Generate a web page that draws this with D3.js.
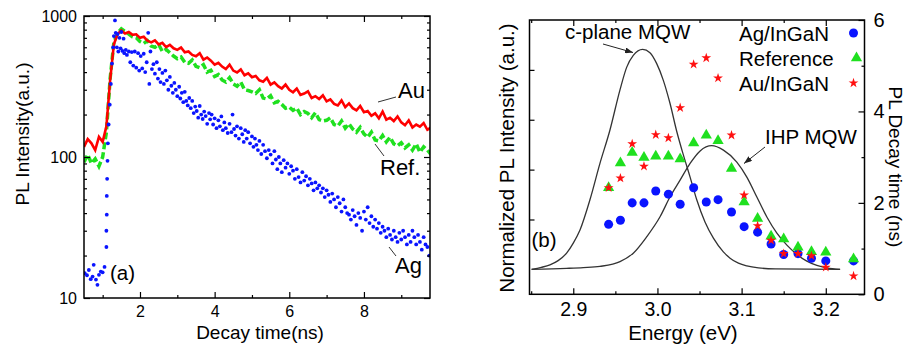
<!DOCTYPE html>
<html>
<head>
<meta charset="utf-8">
<script src="https://cdn.jsdelivr.net/npm/d3@7/dist/d3.min.js"></script>
<style>
  body { margin: 0; background: #fff; }
  svg { display: block; font-family: "Liberation Sans", Arial, sans-serif; }
</style>
</head>
<body>
<div id="chart"></div>
<script>
// ---- panel (a): time-resolved PL ----
const decayTime = [0.5,0.6,0.7,0.8,0.9,1.0,1.1,1.2,1.3,1.4,1.5,1.6,1.7,1.8,1.9,2.0,2.1,2.2,2.3,2.4,2.5,2.6,2.7,2.8,2.9,3.0,3.1,3.2,3.3,3.4,3.5,3.6,3.7,3.8,3.9,4.0,4.1,4.2,4.3,4.4,4.5,4.6,4.7,4.8,4.9,5.0,5.1,5.2,5.3,5.4,5.5,5.6,5.7,5.8,5.9,6.0,6.1,6.2,6.3,6.4,6.5,6.6,6.7,6.8,6.9,7.0,7.1,7.2,7.3,7.4,7.5,7.6,7.7,7.8,7.9,8.0,8.1,8.2,8.3,8.4,8.5,8.6,8.7,8.8,8.9,9.0,9.1,9.2,9.3,9.4,9.5,9.6,9.7,9.8];

const auDecay = [118,134,125,112,139,128,
  165,350,630,745,790,752,770,735,742,
  700,712,668,650,672,628,645,602,625,590,
  575,598,552,560,530,518,545,490,508,482,
  452,466,438,420,452,410,398,418,380,392,
  368,376,350,342,364,326,338,318,306,326,
  300,288,306,276,282,292,262,270,258,274,
  248,256,238,232,252,226,240,222,214,230,
  208,212,196,204,188,210,184,190,180,194,
  176,168,182,162,170,164,174,156,162];

const refDecay = [92,104,90,97,86,100,
  150,360,650,760,810,775,745,712,700,
  660,640,668,612,600,628,560,580,548,520,
  498,512,470,462,488,440,430,452,400,412,
  372,384,352,340,365,330,318,340,300,296,
  290,282,300,262,258,272,242,248,236,222,
  226,214,222,200,210,204,190,206,184,180,
  182,190,170,166,180,160,172,158,150,162,
  146,138,150,132,130,142,128,138,124,120,
  126,116,122,112,124,108,118,112,104];

// Ag sample: scattered points [time (ns), counts]
const agDecay = [
  [0.52,15],[0.58,14.5],[0.63,15.8],[0.68,13.6],[0.73,14.2],[0.76,17.2],[0.82,13.5],[0.86,12.4],[0.9,14.6],[0.95,15.4],[1.0,15.2],[1.05,16.6],
  [1.1,23],[1.1,30],[1.11,39],[1.11,53],[1.12,70],[1.13,94],[1.14,125],[1.16,170],[1.19,235],[1.22,330],[1.25,460],[1.28,600],
  [1.30,720],[1.33,930],[1.35,760],[1.38,600],[1.40,745],[1.42,560],[1.45,700],[1.48,590],[1.50,770],[1.53,565],[1.56,690],[1.58,545],
  [1.62,575],[1.65,530],[1.70,560],[1.74,470],[1.78,555],[1.82,445],[1.86,560],[1.90,430],[1.95,545],[1.98,410],[2.02,520],[2.06,425],
  [2.10,540],[2.14,400],[2.18,470],[2.22,760],[2.25,330],[2.28,560],[2.32,420],[2.36,455],[2.40,390],[2.45,470],[2.48,360],[2.52,420],
  [2.55,340],[2.60,395],[2.64,330],[2.68,410],[2.72,350],[2.76,300],[2.80,370],[2.84,320],[2.88,285],[2.92,335],[2.96,300],[3.00,270],
  [3.05,315],[3.08,260],[3.12,285],[3.16,245],[3.20,290],[3.24,250],[3.28,232],[3.32,262],[3.36,222],[3.40,250],[3.44,205],[3.48,228],
  [3.52,212],[3.56,190],[3.60,230],[3.64,200],[3.68,186],[3.72,210],[3.76,195],[3.80,172],[3.85,205],[3.88,185],[3.92,200],[3.96,170],
  [4.00,188],[4.05,160],[4.10,182],[4.14,165],[4.18,194],[4.22,155],[4.26,176],[4.30,160],[4.35,148],[4.40,172],[4.45,150],[4.48,200],
  [4.52,158],[4.56,142],[4.60,165],[4.65,135],[4.70,160],[4.74,145],[4.78,128],[4.82,155],[4.86,135],[4.90,150],[4.95,125],[5.00,140],
  [5.04,118],[5.08,135],[5.12,122],[5.16,112],[5.20,130],[5.25,105],[5.30,122],[5.35,110],[5.40,98],[5.45,112],[5.50,104],[5.55,90],
  [5.60,110],[5.64,96],[5.68,82],[5.72,100],[5.76,90],[5.80,78],[5.85,95],[5.90,84],[5.95,90],[6.00,76],[6.05,86],[6.10,80],
  [6.15,70],[6.20,82],[6.25,72],[6.30,66],[6.35,78],[6.40,68],[6.45,73],[6.50,63],[6.55,70],[6.60,65],[6.65,58],[6.70,66],
  [6.75,60],[6.80,63],[6.85,56],[6.90,60],[6.95,52],[7.00,58],[7.05,54],[7.10,48],[7.15,55],[7.20,50],[7.25,44],[7.30,52],
  [7.35,47],[7.40,41],[7.45,50],[7.50,44],[7.55,40],[7.60,39],[7.65,36],[7.70,42],[7.75,38],[7.80,33],[7.85,40],[7.90,37],
  [7.95,30],[8.00,41],[8.05,36],[8.10,44],[8.15,34],[8.20,38],[8.25,32],[8.30,36],[8.35,31],[8.40,34],[8.45,29],[8.50,32],
  [8.55,30],[8.60,27],[8.65,31],[8.70,28],[8.75,26],[8.80,30],[8.85,27],[8.90,25],[8.95,29],[9.00,26],[9.05,30],[9.10,27],
  [9.15,24],[9.20,28],[9.25,25],[9.30,30],[9.35,27],[9.40,24],[9.45,28],[9.50,25],[9.55,22],[9.60,27],[9.65,24],[9.70,23],[9.75,20]
];

// ---- panel (b): spectra and decay time vs energy ----
// normalized PL spectra [energy (eV), intensity]
const cPlaneSpectrum = [[2.8505,0],[2.862,0.008],[2.8723,0.018],[2.882,0.035],[2.8921,0.065],[2.900,0.105],[2.908,0.158],[2.9199,0.28],
  [2.9317,0.425],[2.9436,0.559],[2.9555,0.72],[2.9634,0.81],[2.9713,0.858],[2.9824,0.882],[2.9911,0.869],[2.999,0.826],[3.0069,0.759],
  [3.0149,0.666],[3.0228,0.555],[3.0307,0.46],[3.0388,0.37],[3.0466,0.28],[3.0565,0.19],[3.0665,0.125],[3.0783,0.07],[3.0863,0.045],
  [3.0962,0.025],[3.1062,0.014],[3.12,0.006],[3.14,0.002],[3.217,0]];
const ihpSpectrum = [[2.8505,0],[2.892,0.004],[2.9119,0.007],[2.9317,0.012],[2.9555,0.031],[2.9713,0.065],[2.9873,0.131],[3.0031,0.211],
  [3.015,0.291],[3.0269,0.358],[3.0388,0.425],[3.0507,0.475],[3.0645,0.496],[3.0784,0.478],[3.0943,0.43],[3.1062,0.37],[3.1181,0.29],
  [3.13,0.21],[3.1419,0.145],[3.1538,0.097],[3.1657,0.06],[3.1775,0.033],[3.1894,0.016],[3.2013,0.006],[3.217,0]];

const energy = [2.942,2.956,2.970,2.984,2.998,3.013,3.027,3.043,3.058,3.072,3.088,3.103,3.119,3.135,3.150,3.167,3.183,3.200,3.233];
const agLifetime  = [1.53,1.62,2.00,2.00,2.26,2.19,1.97,2.33,2.02,2.07,1.80,1.48,1.36,1.10,0.87,0.89,0.79,0.73,0.73];
const refLifetime = [2.33,2.87,3.10,2.99,3.02,3.02,2.96,3.31,3.48,3.36,2.75,2.02,1.66,1.27,1.21,1.03,0.93,0.92,0.77];
const auLifetime  = [2.33,2.54,3.29,2.80,3.49,3.42,4.08,5.03,5.17,4.73,3.48,2.17,1.50,1.18,0.89,0.89,0.84,0.59,0.40];

const legendItems = [
  {label: 'Ag/InGaN', color: '#0a14ff', symbol: d3.symbolCircle, size: 64},
  {label: 'Reference', color: '#1fe01f', symbol: d3.symbolTriangle, size: 55},
  {label: 'Au/InGaN', color: '#ff1010', symbol: d3.symbolStar, size: 30}
];

const W = 905, H = 351;
const svg = d3.select('#chart').append('svg')
  .attr('width', W)
  .attr('height', H);

svg.append('rect').attr('width', W).attr('height', H).attr('fill', '#fff');

const defs = svg.append('defs');
defs.append('marker')
  .attr('id', 'arrow')
  .attr('viewBox', '0 0 8 6')
  .attr('refX', 8).attr('refY', 3)
  .attr('markerWidth', 8).attr('markerHeight', 6)
  .attr('markerUnits', 'userSpaceOnUse')
  .attr('orient', 'auto')
  .append('path').attr('d', 'M0,0 L8,3 L0,6 Z').attr('fill', '#222');

function addTicks(axis, transform, values, size, format, fontSize, pad) {
  const g = svg.append('g')
    .attr('transform', transform)
    .call(axis.tickValues(values).tickSize(size).tickPadding(pad || 0).tickFormat(format || (() => '')));
  g.select('.domain').remove();
  g.selectAll('.tick line').attr('stroke', '#000').attr('stroke-width', 1.2);
  g.selectAll('.tick text').attr('fill', '#000').style('font-size', (fontSize || 16) + 'px');
  return g;
}

// ================= panel (a) =================
const pa = {left: 84, right: 430, top: 16, bottom: 298};
const xA = d3.scaleLinear().domain([0.5, 9.77]).range([pa.left, pa.right]);
const yA = d3.scaleLog().domain([10, 1000]).range([pa.bottom, pa.top]);

defs.append('clipPath').attr('id', 'clipA')
  .append('rect').attr('x', pa.left).attr('y', pa.top)
  .attr('width', pa.right - pa.left).attr('height', pa.bottom - pa.top);

const plotA = svg.append('g').attr('clip-path', 'url(#clipA)');

const lineA = d3.line().x(d => xA(d[0])).y(d => yA(d[1]));

plotA.append('path')
  .datum(decayTime.map((t, i) => [t, refDecay[i]]))
  .attr('d', lineA)
  .attr('fill', 'none')
  .attr('stroke', '#1fe01f')
  .attr('stroke-width', 3.5)
  .attr('stroke-dasharray', '7,3');

plotA.append('path')
  .datum(decayTime.map((t, i) => [t, auDecay[i]]))
  .attr('d', lineA)
  .attr('fill', 'none')
  .attr('stroke', '#ff0000')
  .attr('stroke-width', 2.6);

plotA.selectAll('.ag')
  .data(agDecay)
  .enter().append('circle')
  .attr('class', 'ag')
  .attr('cx', d => xA(d[0]))
  .attr('cy', d => yA(d[1]))
  .attr('r', 1.9)
  .attr('fill', '#0a14ff');

const majorA = [2, 4, 6, 8], minorA = [1, 3, 5, 7, 9];
const decades = [10, 100, 1000];
const minorLog = [20,30,40,50,60,70,80,90,200,300,400,500,600,700,800,900];

addTicks(d3.axisBottom(xA), `translate(0,${pa.bottom})`, majorA, -6, d3.format('d'), 16, 8);
addTicks(d3.axisBottom(xA), `translate(0,${pa.bottom})`, minorA, -3);
addTicks(d3.axisTop(xA), `translate(0,${pa.top})`, majorA, -6);
addTicks(d3.axisTop(xA), `translate(0,${pa.top})`, minorA, -3);
addTicks(d3.axisLeft(yA), `translate(${pa.left},0)`, decades, -6, d3.format('d'), 16, 7);
addTicks(d3.axisLeft(yA), `translate(${pa.left},0)`, minorLog, -3);
addTicks(d3.axisRight(yA), `translate(${pa.right},0)`, decades, -6);
addTicks(d3.axisRight(yA), `translate(${pa.right},0)`, minorLog, -3);

svg.append('rect')
  .attr('x', pa.left).attr('y', pa.top)
  .attr('width', pa.right - pa.left).attr('height', pa.bottom - pa.top)
  .attr('fill', 'none').attr('stroke', '#000').attr('stroke-width', 1.5);

svg.append('text')
  .attr('transform', 'translate(29,134) rotate(-90)')
  .attr('text-anchor', 'middle')
  .style('font-size', '19px')
  .text('PL Intensity(a.u.)');

svg.append('text')
  .attr('x', 260).attr('y', 339)
  .attr('text-anchor', 'middle')
  .style('font-size', '19px')
  .text('Decay time(ns)');

// curve labels with leader lines
const annA = [
  {text: 'Au', x: 398, y: 98, line: [[378, 102], [396, 97]]},
  {text: 'Ref.', x: 380, y: 175, line: [[375, 144], [384, 156]]},
  {text: 'Ag', x: 395, y: 273, line: [[389, 247], [396, 256]]}
];
annA.forEach(a => {
  svg.append('line')
    .attr('x1', a.line[0][0]).attr('y1', a.line[0][1])
    .attr('x2', a.line[1][0]).attr('y2', a.line[1][1])
    .attr('stroke', '#333').attr('stroke-width', 1);
  svg.append('text')
    .attr('x', a.x).attr('y', a.y)
    .style('font-size', '22px')
    .text(a.text);
});

svg.append('text')
  .attr('x', 110).attr('y', 280)
  .style('font-size', '20.5px')
  .text('(a)');

// ================= panel (b) =================
const pb = {left: 529.5, right: 864.5, top: 20, bottom: 294.3};
const xB = d3.scaleLinear().domain([2.848, 3.246]).range([pb.left, pb.right]);
const yNorm = d3.scaleLinear().domain([-0.1, 1.0]).range([pb.bottom, pb.top]);
const yTau = d3.scaleLinear().domain([0, 6]).range([pb.bottom, pb.top]);

const lineB = d3.line().x(d => xB(d[0])).y(d => yNorm(d[1])).curve(d3.curveMonotoneX);

[cPlaneSpectrum, ihpSpectrum].forEach(s => {
  svg.append('path')
    .datum(s)
    .attr('d', lineB)
    .attr('fill', 'none')
    .attr('stroke', '#333')
    .attr('stroke-width', 1.3);
});

const scatterSets = [
  {values: agLifetime, item: legendItems[0]},
  {values: refLifetime, item: legendItems[1]},
  {values: auLifetime, item: legendItems[2]}
];
scatterSets.forEach(s => {
  const sym = d3.symbol().type(s.item.symbol).size(s.item.size);
  svg.append('g').selectAll('path')
    .data(energy.map((e, i) => [e, s.values[i]]))
    .enter().append('path')
    .attr('transform', d => `translate(${xB(d[0])},${yTau(d[1])})`)
    .attr('d', sym)
    .attr('fill', s.item.color);
});

const majorB = [2.9, 3.0, 3.1, 3.2], minorB = [2.85, 2.95, 3.05, 3.15];
addTicks(d3.axisBottom(xB), `translate(0,${pb.bottom})`, majorB, -6, d3.format('.1f'), 19.5, 8);
addTicks(d3.axisBottom(xB), `translate(0,${pb.bottom})`, minorB, -3);
addTicks(d3.axisTop(xB), `translate(0,${pb.top})`, majorB, -6);
addTicks(d3.axisTop(xB), `translate(0,${pb.top})`, minorB, -3);
addTicks(d3.axisLeft(yNorm), `translate(${pb.left},0)`, [0.2, 0.4, 0.6, 0.8], -5);
addTicks(d3.axisRight(yTau), `translate(${pb.right},0)`, [0, 2, 4, 6], -6, d3.format('d'), 20, 9);
addTicks(d3.axisRight(yTau), `translate(${pb.right},0)`, [1, 3, 5], -3);

svg.append('rect')
  .attr('x', pb.left).attr('y', pb.top)
  .attr('width', pb.right - pb.left).attr('height', pb.bottom - pb.top)
  .attr('fill', 'none').attr('stroke', '#000').attr('stroke-width', 1.5);

svg.append('text')
  .attr('transform', 'translate(514,158) rotate(-90)')
  .attr('text-anchor', 'middle')
  .style('font-size', '20.5px')
  .text('Normalized PL Intensity (a.u.)');

svg.append('text')
  .attr('transform', 'translate(889,167) rotate(90)')
  .attr('text-anchor', 'middle')
  .style('font-size', '19px')
  .text('PL Decay time (ns)');

svg.append('text')
  .attr('x', 683).attr('y', 340)
  .attr('text-anchor', 'middle')
  .style('font-size', '20.5px')
  .text('Energy (eV)');

// legend
const legend = svg.append('g');
legendItems.forEach((d, i) => {
  const cy = 33 + i * 25;
  legend.append('text')
    .attr('x', 739).attr('y', cy + 8)
    .style('font-size', '20.5px')
    .text(d.label);
  legend.append('path')
    .attr('transform', `translate(${i === 1 ? 856.5 : 853.5},${cy})`)
    .attr('d', d3.symbol().type(d.symbol).size(d.size))
    .attr('fill', d.color);
});

// peak labels with arrows
const annB = [
  {text: 'c-plane MQW', x: 565, y: 39, arrow: [[603, 44], [633, 52.5]]},
  {text: 'IHP MQW', x: 765, y: 144, arrow: [[765, 147], [744, 163.5]]}
];
annB.forEach(a => {
  svg.append('text')
    .attr('x', a.x).attr('y', a.y)
    .style('font-size', '20.5px')
    .text(a.text);
  svg.append('line')
    .attr('x1', a.arrow[0][0]).attr('y1', a.arrow[0][1])
    .attr('x2', a.arrow[1][0]).attr('y2', a.arrow[1][1])
    .attr('stroke', '#222').attr('stroke-width', 1)
    .attr('marker-end', 'url(#arrow)');
});

svg.append('text')
  .attr('x', 531.5).attr('y', 247)
  .style('font-size', '20.5px')
  .text('(b)');
</script>
</body>
</html>
